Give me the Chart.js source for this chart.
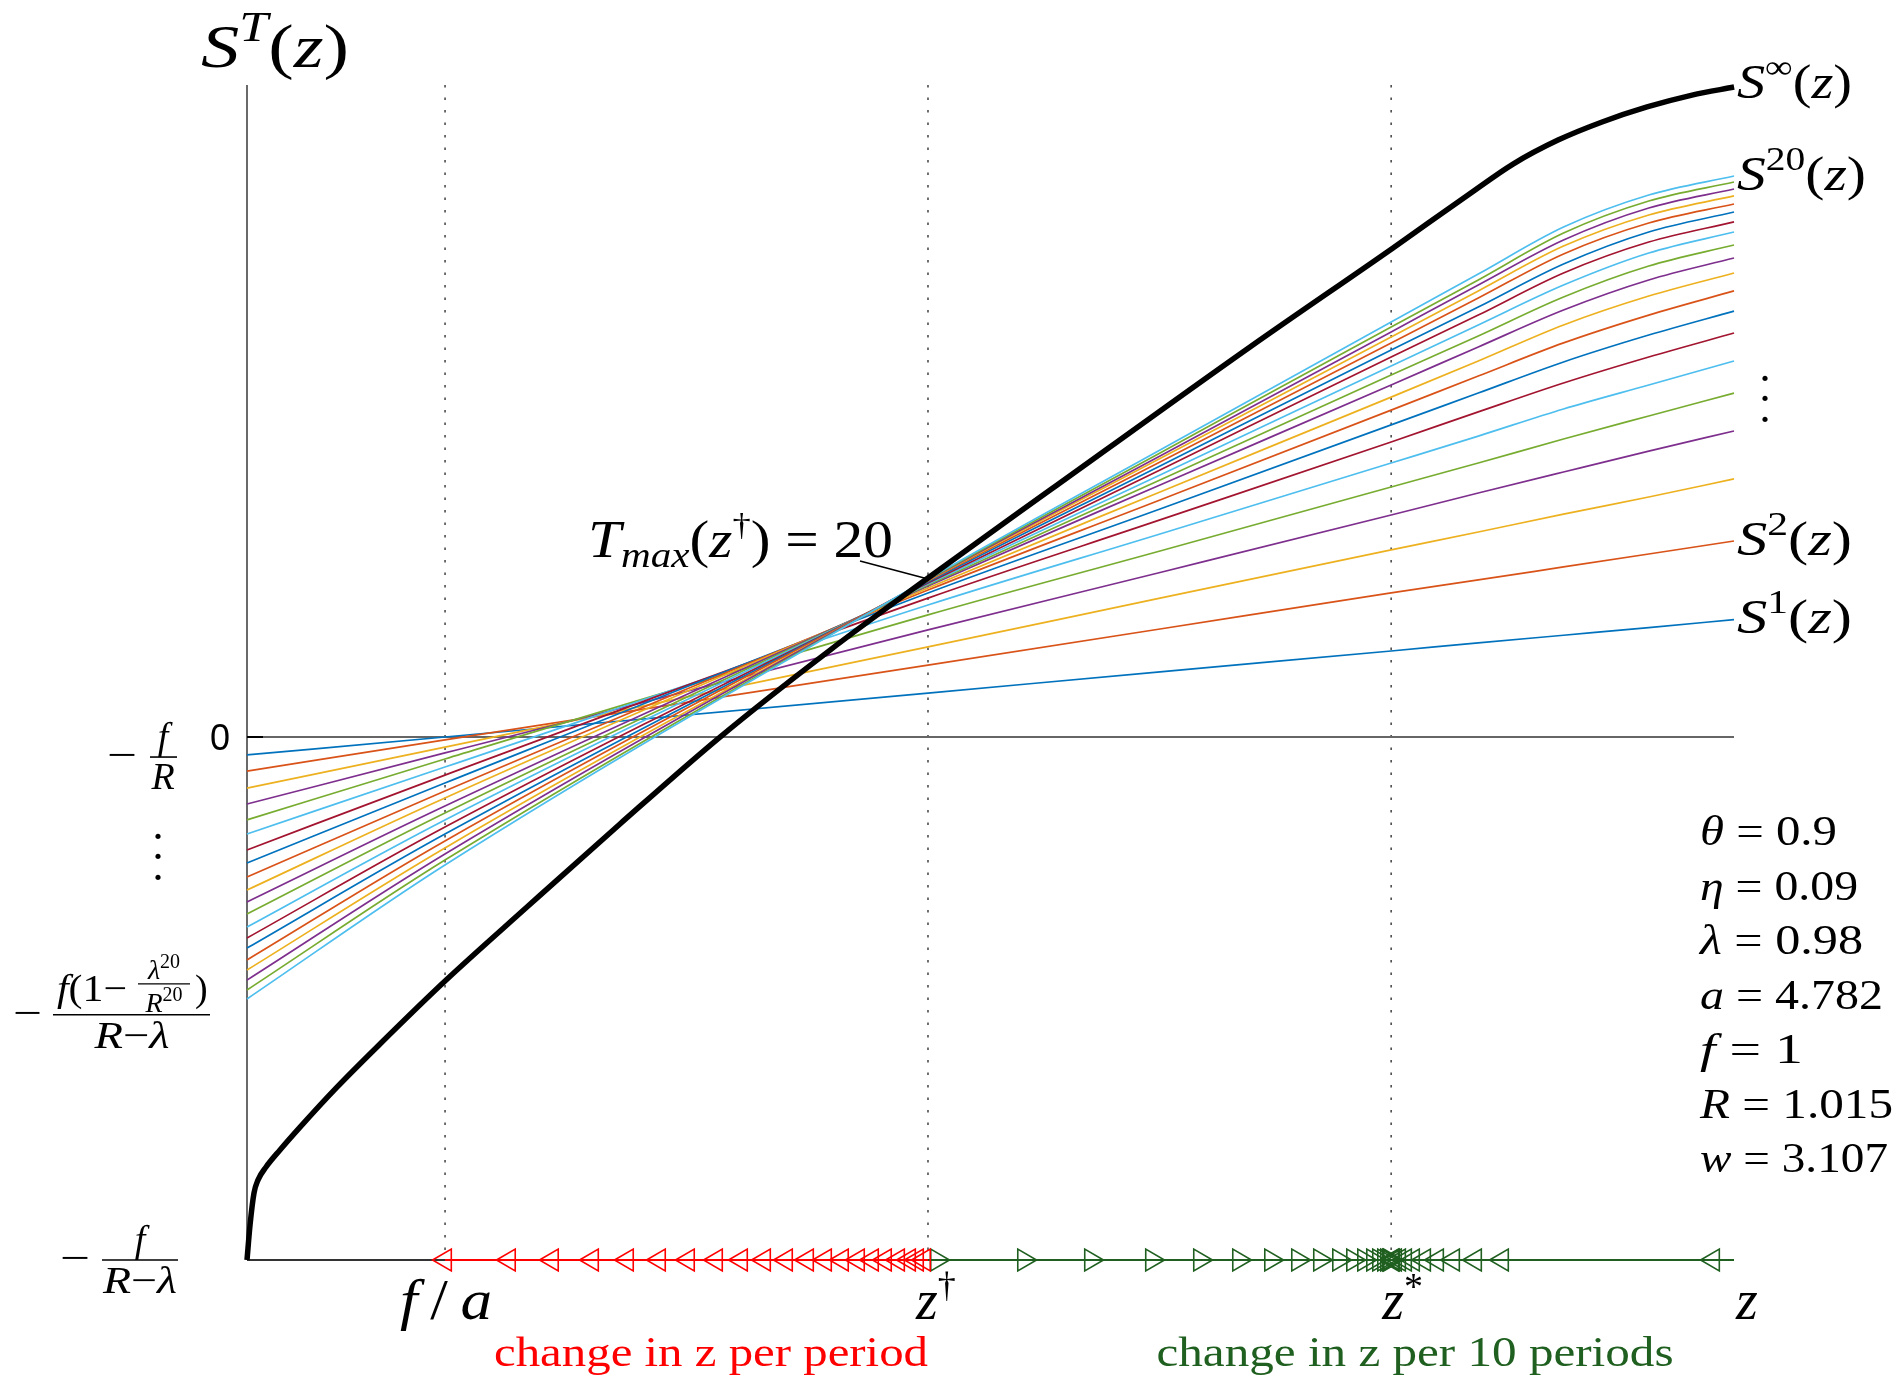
<!DOCTYPE html>
<html>
<head>
<meta charset="utf-8">
<script src="https://cdn.jsdelivr.net/npm/chart.js@4.4.0/dist/chart.umd.min.js"></script>
<style>
  html, body { margin: 0; padding: 0; background: #fff; }
  canvas { display: block; }
</style>
</head>
<body>
<canvas id="chart" width="1902" height="1382"></canvas>
<script>
const zGrid = [0, 0.209, 0.719, 0.964, 1.208, 1.300, 1.390, 1.480, 1.570];

// S^1 ... S^20, one row per horizon T, values at zGrid
const sCurves = [
  [-0.98, 0.00, 2.40, 3.56, 4.70, 5.14, 5.56, 5.98, 6.41],
  [-1.86, -0.16, 3.93, 5.90, 7.87, 8.58, 9.29, 10.00, 10.71],
  [-2.79, -0.55, 4.92, 7.59, 10.22, 11.20, 12.18, 13.11, 14.10],
  [-3.66, -0.87, 5.85, 8.99, 12.13, 13.33, 14.48, 15.62, 16.72],
  [-4.53, -1.20, 6.67, 10.16, 13.66, 14.97, 16.28, 17.54, 18.79],
  [-5.30, -1.64, 7.21, 11.09, 14.97, 16.44, 17.92, 19.23, 20.54],
  [-6.17, -2.08, 7.59, 11.86, 16.12, 17.76, 19.34, 20.76, 22.07],
  [-6.88, -2.51, 7.87, 12.46, 17.05, 18.79, 20.49, 21.96, 23.27],
  [-7.65, -2.95, 8.03, 12.95, 17.86, 19.72, 21.53, 23.05, 24.37],
  [-8.36, -3.33, 8.14, 13.39, 18.57, 20.54, 22.51, 24.09, 25.35],
  [-9.01, -3.77, 8.25, 13.77, 19.23, 21.31, 23.33, 24.97, 26.17],
  [-9.67, -4.15, 8.30, 14.04, 19.78, 21.91, 24.04, 25.73, 26.88],
  [-10.38, -4.53, 8.36, 14.31, 20.27, 22.51, 24.69, 26.44, 27.59],
  [-10.98, -4.92, 8.41, 14.59, 20.76, 23.05, 25.35, 27.04, 28.14],
  [-11.53, -5.30, 8.47, 14.81, 21.14, 23.49, 25.84, 27.59, 28.68],
  [-12.18, -5.68, 8.52, 15.02, 21.53, 23.98, 26.39, 28.08, 29.12],
  [-12.73, -6.06, 8.55, 15.22, 21.85, 24.37, 26.82, 28.52, 29.56],
  [-13.28, -6.39, 8.58, 15.35, 22.13, 24.69, 27.15, 28.90, 29.94],
  [-13.82, -6.72, 8.60, 15.52, 22.40, 24.97, 27.53, 29.28, 30.32],
  [-14.31, -6.99, 8.63, 15.68, 22.67, 25.29, 27.86, 29.61, 30.65]
];

// S^inf (thick black)
const sInfZ = [0, 0.0032, 0.0074, 0.0116, 0.0201, 0.0348, 0.0560, 0.0940, 0.1404, 0.2091, 0.2956, 0.3938,
  0.4994, 0.6156, 0.7190, 0.8479, 1.0590, 1.2100, 1.2892, 1.3367, 1.3842, 1.4307, 1.4782, 1.5257, 1.5701];
const sInfV = [-28.57, -26.66, -24.91, -24.20, -23.49, -22.56, -21.31, -19.18, -16.77, -13.33, -9.29, -4.75,
  0.00, 4.75, 8.69, 13.49, 21.31, 26.72, 29.61, 31.30, 32.61, 33.60, 34.42, 35.07, 35.51];

// arrows on the z axis
const perPeriodZ = [0.2091, 0.2766, 0.3220, 0.3643, 0.4012, 0.4350, 0.4656, 0.4952, 0.5216, 0.5459, 0.5691,
  0.5913, 0.6103, 0.6282, 0.6451, 0.6599, 0.6736, 0.6874, 0.6990, 0.7074, 0.7148];
const upToStarZ = [0.7285, 0.8204, 0.8911, 0.9555, 1.0062, 1.0474, 1.0812, 1.1097, 1.1329, 1.1530, 1.1678,
  1.1794, 1.1889, 1.1952, 1.2005, 1.2037, 1.2058, 1.2069];
const downToStarZ = [1.5479, 1.3251, 1.2966, 1.2734, 1.2565, 1.2428, 1.2311, 1.2227, 1.2164, 1.2121, 1.2100, 1.2090];

// special points
const zFa = 0.2091, zDagger = 0.719, zStar = 1.208, zMax = 1.570;
const yBottom = -28.571, yTop = 35.62;
const yMinusFR = -0.985, yMinusBig = -14.41;

const params = [['θ', '0.9', 137], ['η', '0.09', 158], ['λ', '0.98', 163], ['a', '4.782', 183],
  ['f', '1', 103], ['R', '1.015', 193], ['w', '3.107', 188]];

const matlab = ['#0072BD', '#D95319', '#EDB120', '#7E2F8E', '#77AC30', '#4DBEEE', '#A2142F'];
const RED = '#ff0000', GREEN = '#1f5f1f';

const SERIF = '"Liberation Serif", "Times New Roman", "DejaVu Serif", serif';
function font(size, italic) { return (italic ? 'italic ' : '') + size + 'px ' + SERIF; }

// runs: [text, size, italic, dy]
function mathText(ctx, runs, x, y, opts) {
  opts = opts || {};
  let total = 0;
  const widths = runs.map(r => {
    ctx.font = font(r[1], r[2]);
    const w = ctx.measureText(r[0]).width;
    total += w;
    return w;
  });
  const target = opts.width || total;
  const sx = target / total;
  let x0 = x;
  if (opts.align === 'center') x0 = x - target / 2;
  if (opts.align === 'right') x0 = x - target;
  ctx.save();
  ctx.translate(x0, y);
  ctx.scale(sx, 1);
  ctx.textAlign = 'left';
  ctx.textBaseline = 'alphabetic';
  ctx.fillStyle = opts.color || '#000';
  let cx = 0;
  runs.forEach((r, i) => {
    ctx.font = font(r[1], r[2]);
    ctx.fillText(r[0], cx, r[3] || 0);
    cx += widths[i];
  });
  ctx.restore();
}

function hline(ctx, x1, x2, y, w) {
  ctx.beginPath();
  ctx.moveTo(x1, y);
  ctx.lineTo(x2, y);
  ctx.lineWidth = w || 1.6;
  ctx.strokeStyle = '#000';
  ctx.stroke();
}

function dots(ctx, x, ys) {
  ctx.font = '44px ' + SERIF;
  ctx.textAlign = 'center';
  ctx.fillStyle = '#000';
  ys.forEach(y => ctx.fillText('.', x, y + 3));
}

const axesPlugin = {
  id: 'axesDecor',
  beforeDatasetsDraw(chart) {
    const ctx = chart.ctx, xs = chart.scales.x, ys = chart.scales.y;
    const x0 = xs.getPixelForValue(0), x1 = xs.getPixelForValue(zMax);
    const top = chart.chartArea.top, bot = ys.getPixelForValue(yBottom);
    ctx.save();
    // dotted guides
    ctx.setLineDash([2.5, 10]);
    ctx.strokeStyle = '#333';
    ctx.lineWidth = 1.4;
    [zFa, zDagger, zStar].forEach(z => {
      const x = xs.getPixelForValue(z);
      ctx.beginPath(); ctx.moveTo(x, top); ctx.lineTo(x, bot); ctx.stroke();
    });
    ctx.setLineDash([]);
    // y axis
    ctx.strokeStyle = '#444';
    ctx.lineWidth = 1.6;
    ctx.beginPath(); ctx.moveTo(x0, top); ctx.lineTo(x0, bot); ctx.stroke();
    // bottom axis
    ctx.strokeStyle = '#333';
    ctx.lineWidth = 2;
    ctx.beginPath(); ctx.moveTo(x0, bot); ctx.lineTo(x1, bot); ctx.stroke();
    // zero line
    const yz = ys.getPixelForValue(0);
    ctx.strokeStyle = '#666';
    ctx.lineWidth = 2;
    ctx.beginPath(); ctx.moveTo(x0, yz); ctx.lineTo(x1, yz); ctx.stroke();
    ctx.strokeStyle = '#000';
    ctx.beginPath(); ctx.moveTo(x0, yz); ctx.lineTo(x0 + 16, yz); ctx.stroke();
    ctx.restore();
  },
  afterDraw(chart) {
    const ctx = chart.ctx, xs = chart.scales.x, ys = chart.scales.y;
    const px = z => xs.getPixelForValue(z), py = v => ys.getPixelForValue(v);
    const xr = px(zMax) + 3;
    ctx.save();

    // axis title
    mathText(ctx, [['S', 62, true], ['T', 42, true, -26], ['(', 62], ['z', 62, true], [')', 62]], 201, 67, { width: 148 });

    // right-hand curve labels
    const sub = (n, base) => mathText(ctx, [['S', 48, true], [n, 33, false, -20], ['(', 48], ['z', 48, true], [')', 48]],
      xr, base, { width: n.length > 1 ? 129 : 115 });
    sub('∞', py(sInfV[sInfV.length - 1]) + 11);
    sub('20', py(sCurves[19][8]) + 14);
    sub('2', py(sCurves[1][8]) + 14);
    sub('1', py(sCurves[0][8]) + 13);
    dots(ctx, xr + 28, [378, 398, 419]);

    // y tick labels
    ctx.font = '36px "Liberation Sans", Arial, sans-serif';
    ctx.textAlign = 'center';
    ctx.fillStyle = '#000';
    ctx.fillText('0', 220, py(0) + 13);

    let b = py(yMinusFR) + 2;
    mathText(ctx, [['−', 40]], 107, b + 11, { width: 30 });
    hline(ctx, 150, 177, b);
    mathText(ctx, [['f', 38, true]], 163, b - 8, { align: 'center' });
    mathText(ctx, [['R', 38, true]], 163, b + 32, { align: 'center' });

    dots(ctx, 158, [836, 856, 877]);

    b = py(yMinusBig) + 14;
    mathText(ctx, [['−', 40]], 13, b + 11, { width: 29 });
    hline(ctx, 53, 210, b);
    mathText(ctx, [['f', 38, true], ['(', 38], ['1', 38], ['−', 38]], 57, b - 14, { width: 70 });
    hline(ctx, 138, 190, b - 31, 1.3);
    mathText(ctx, [['λ', 28, true], ['20', 20, false, -11]], 164, b - 36, { align: 'center' });
    mathText(ctx, [['R', 28, true], ['20', 20, false, -11]], 164, b - 3, { align: 'center' });
    mathText(ctx, [[')', 38]], 195, b - 14);
    mathText(ctx, [['R', 38, true], ['−', 38], ['λ', 38, true]], 132, b + 33, { align: 'center', width: 75 });

    b = py(yBottom);
    mathText(ctx, [['−', 40]], 60, b + 11, { width: 30 });
    hline(ctx, 102, 178, b);
    mathText(ctx, [['f', 38, true]], 140, b - 8, { align: 'center' });
    mathText(ctx, [['R', 38, true], ['−', 38], ['λ', 38, true]], 140, b + 33, { align: 'center', width: 74 });

    // x tick labels
    const xb = 1319;
    mathText(ctx, [['f', 58, true], ['\u2009', 58], ['/', 58], ['\u2009', 58], ['a', 58, true]], px(zFa) - 45, xb, { width: 92 });
    mathText(ctx, [['z', 56, true], ['†', 36, false, -22]], px(zDagger) - 12, xb);
    mathText(ctx, [['z', 56, true], ['*', 38, false, -20]], px(zStar) - 9, xb);
    mathText(ctx, [['z', 56, true]], px(zMax) + 2, xb);

    // arrow captions
    mathText(ctx, [['change in z per period', 42]], 711, 1366, { align: 'center', width: 434, color: RED });
    mathText(ctx, [['change in z per 10 periods', 42]], 1415, 1366, { align: 'center', width: 517, color: GREEN });

    // parameters
    params.forEach((p, i) => {
      mathText(ctx, [[p[0], 42, true], [' = ', 42], [p[1], 42]], 1700, 845 + i * 54.5, { width: p[2] });
    });

    // T_max annotation
    mathText(ctx, [['T', 52, true], ['max', 36, true, 10], ['(', 52], ['z', 52, true], ['†', 32, false, -22],
      [')', 52], [' = ', 52], ['20', 52]], 588, 557, { width: 305 });
    ctx.beginPath();
    ctx.moveTo(860, 561);
    ctx.lineTo(px(zDagger), py(sCurves[19][2]));
    ctx.lineWidth = 1.6;
    ctx.strokeStyle = '#000';
    ctx.stroke();

    ctx.restore();
  }
};

const pts = (zs, vs) => zs.map((z, i) => ({ x: z, y: vs[i] }));
const onAxis = zs => zs.map(z => ({ x: z, y: yBottom }));

const datasets = [];
datasets.push({
  label: 'S∞', data: pts(sInfZ, sInfV), borderColor: '#000', borderWidth: 5.5,
  pointRadius: 0, cubicInterpolationMode: 'monotone', order: 0, clip: false
});
const markerSet = (zs, color, rot) => ({
  data: onAxis(zs), showLine: false, pointStyle: 'triangle', pointRotation: rot,
  pointRadius: 12.5, pointBorderWidth: 1.6, pointBorderColor: color,
  pointBackgroundColor: 'rgba(0,0,0,0)', borderColor: color, order: 1, clip: false
});
datasets.push(markerSet(perPeriodZ, RED, -90));
datasets.push(markerSet(upToStarZ, GREEN, 90));
datasets.push(markerSet(downToStarZ, GREEN, -90));
datasets.push({ data: onAxis([zFa, zDagger]), borderColor: RED, borderWidth: 1.8, pointRadius: 0, order: 2, clip: false });
datasets.push({ data: onAxis([zDagger, zMax]), borderColor: GREEN, borderWidth: 1.8, pointRadius: 0, order: 2, clip: false });
sCurves.forEach((vals, i) => {
  datasets.push({
    label: 'S' + (i + 1), data: pts(zGrid, vals), borderColor: matlab[i % 7], borderWidth: 1.7,
    pointRadius: 0, cubicInterpolationMode: 'monotone', order: 100 - i, clip: false
  });
});

new Chart(document.getElementById('chart').getContext('2d'), {
  type: 'line',
  data: { datasets: datasets },
  options: {
    responsive: false,
    animation: false,
    layout: { padding: { left: 247, right: 168, top: 85, bottom: 122 } },
    scales: {
      x: { type: 'linear', min: 0, max: zMax, display: false },
      y: { type: 'linear', min: yBottom, max: yTop, display: false }
    },
    plugins: { legend: { display: false }, tooltip: { enabled: false } }
  },
  plugins: [axesPlugin]
});
</script>
</body>
</html>
